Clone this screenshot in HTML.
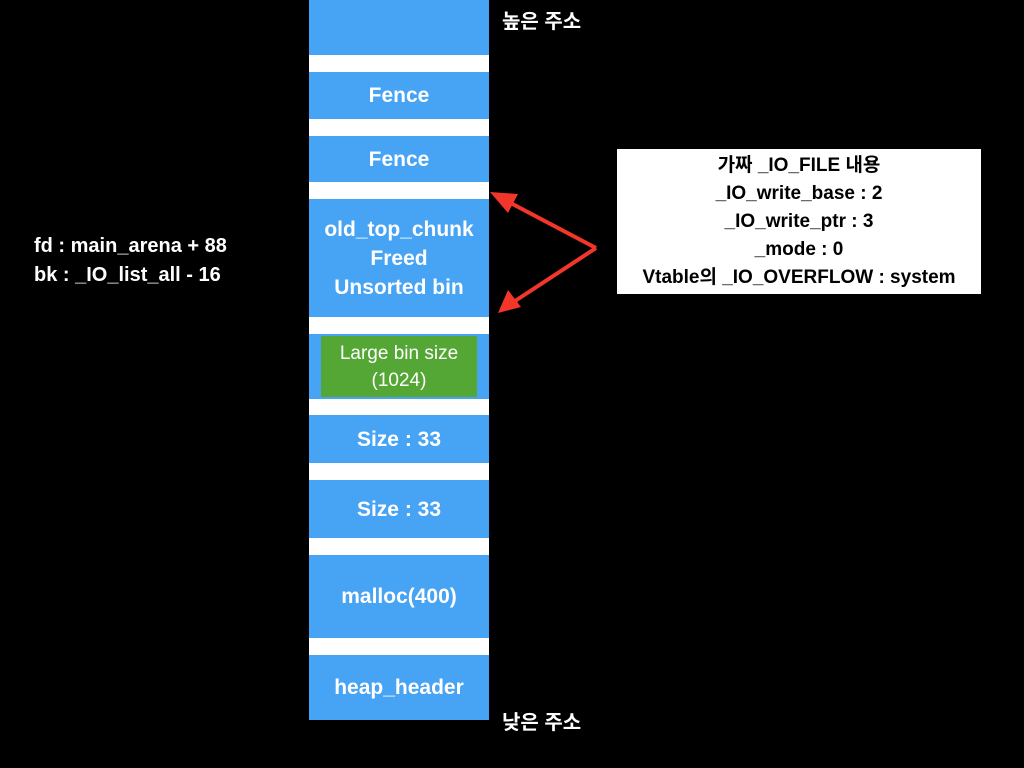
<!DOCTYPE html>
<html><head><meta charset="utf-8"><style>
body{margin:0;width:1024px;height:768px;background:#000;position:relative;overflow:hidden;font-family:"Liberation Sans","Noto Sans CJK KR",sans-serif;}
.b{position:absolute;left:309px;width:180px;background:#47a3f3;color:#fff;font-weight:bold;font-size:21px;display:flex;align-items:center;justify-content:center;text-align:center;line-height:29px;}
.w{position:absolute;left:309px;width:180px;background:#fff;}
.t{position:absolute;color:#fff;font-weight:bold;font-size:20px;}
</style></head><body>
<div class="b" style="top:0;height:55px"></div>
<div class="w" style="top:55px;height:17px"></div>
<div class="b" style="top:72px;height:47px">Fence</div>
<div class="w" style="top:119px;height:17px"></div>
<div class="b" style="top:136px;height:46px">Fence</div>
<div class="w" style="top:182px;height:17px"></div>
<div class="b" style="top:199px;height:118px">old_top_chunk<br>Freed<br>Unsorted bin</div>
<div class="w" style="top:317px;height:17px"></div>
<div class="b" style="top:334px;height:65px"></div>
<div style="position:absolute;left:321px;top:336px;width:156px;height:61px;background:#54a734;color:#fff;font-size:19px;line-height:27px;display:flex;align-items:center;justify-content:center;text-align:center">Large bin size<br>(1024)</div>
<div class="w" style="top:399px;height:16px"></div>
<div class="b" style="top:415px;height:48px">Size : 33</div>
<div class="w" style="top:463px;height:17px"></div>
<div class="b" style="top:480px;height:58px">Size : 33</div>
<div class="w" style="top:538px;height:17px"></div>
<div class="b" style="top:555px;height:83px">malloc(400)</div>
<div class="w" style="top:638px;height:17px"></div>
<div class="b" style="top:655px;height:65px">heap_header</div>
<div class="t" style="left:502px;top:5px">높은 주소</div>
<div class="t" style="left:502px;top:706px">낮은 주소</div>
<div class="t" style="left:34px;top:232px;line-height:29px">fd : main_arena + 88<br>bk : _IO_list_all - 16</div>
<div style="position:absolute;left:617px;top:149px;width:364px;height:145px;background:#fff;color:#000;font-weight:bold;font-size:19px;line-height:28px;text-align:center;padding-top:3px;box-sizing:border-box">가짜 _IO_FILE 내용<br>_IO_write_base : 2<br>_IO_write_ptr : 3<br>_mode : 0<br>Vtable의 _IO_OVERFLOW : system</div>
<svg width="1024" height="768" style="position:absolute;left:0;top:0">
<g stroke="#f2372a" stroke-width="4" fill="none"><line x1="596" y1="248" x2="505" y2="200"/><line x1="596" y1="248" x2="512" y2="303"/></g>
<polygon points="490,192 518,194 508,213" fill="#f2372a"/>
<polygon points="498,313 508,290 521,307" fill="#f2372a"/>
</svg>
</body></html>
